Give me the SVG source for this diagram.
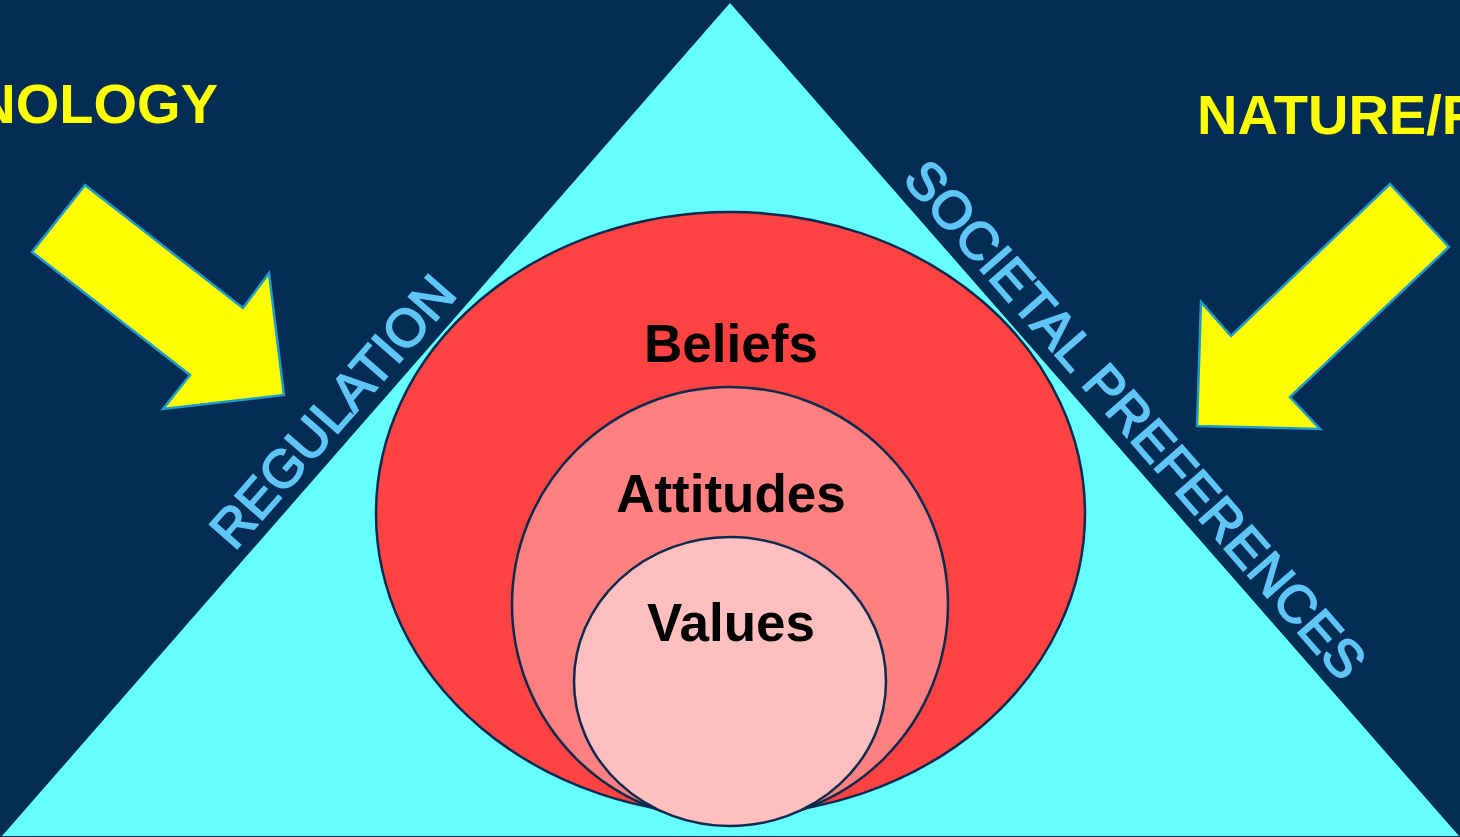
<svg xmlns="http://www.w3.org/2000/svg" width="1460" height="837" viewBox="0 0 1460 837">
  <style>
    .force { font-family: "Liberation Sans", Arial, sans-serif; font-weight: bold; font-size: 56px; fill: #FFFF00; }
    .side { font-family: "Liberation Sans", Arial, sans-serif; font-size: 53px; fill: #5FC6F7; stroke: #5FC6F7; stroke-width: 1.8; text-anchor: middle; }
    .layer { font-family: "Liberation Sans", Arial, sans-serif; font-weight: bold; font-size: 53px; fill: #000000; text-anchor: middle; }
    .arrow { fill: #FFFF00; stroke: #1C9CCB; stroke-width: 2.5; stroke-linejoin: miter; }
    .ring { stroke: #0B2A4E; stroke-width: 2.5; }
  </style>

  <!-- backdrop -->
  <rect x="0" y="0" width="1460" height="837" fill="#032D54"/>

  <!-- pyramid -->
  <g id="pyramid">
    <polygon points="730,3 2,836 1459,836" fill="#66FFFF"/>
  </g>

  <!-- external force labels -->
  <g id="technology">
    <text class="force" x="218" y="123" text-anchor="end">NOLOGY</text>
  </g>
  <g id="nature">
    <text class="force" x="1197" y="134" font-size="55">NATURE/P</text>
  </g>

  <!-- arrows pushing on the pyramid -->
  <g id="connectors">
    <polygon class="arrow" points="85,185 243,308 269,273 284,395 163,409 190,375 32,252"/>
    <polygon class="arrow" points="1390,184 1449,247 1290,397 1320,429 1197,426 1201,302 1231,336"/>
  </g>

  <!-- labels along the pyramid sides -->
  <g id="regulation">
    <text class="side" transform="translate(332,411) rotate(-48.85)" x="0" y="19">REGULATION</text>
  </g>
  <g id="societal-preferences">
    <text class="side" transform="translate(1136,419) rotate(48.8)" x="0" y="19">SOCIETAL PREFERENCES</text>
  </g>

  <!-- nested layers -->
  <g id="beliefs">
    <ellipse class="ring" cx="730.5" cy="513.5" rx="354.5" ry="301.5" fill="#FF4343"/>
    <text class="layer" x="731" y="362">Beliefs</text>
  </g>
  <g id="attitudes">
    <ellipse class="ring" cx="730" cy="604.5" rx="218" ry="217.5" fill="#FF8080"/>
    <text class="layer" x="731" y="512">Attitudes</text>
  </g>
  <g id="values">
    <ellipse class="ring" cx="730" cy="681.5" rx="156" ry="144.5" fill="#FFBFBF"/>
    <text class="layer" x="731" y="641">Values</text>
  </g>
</svg>
